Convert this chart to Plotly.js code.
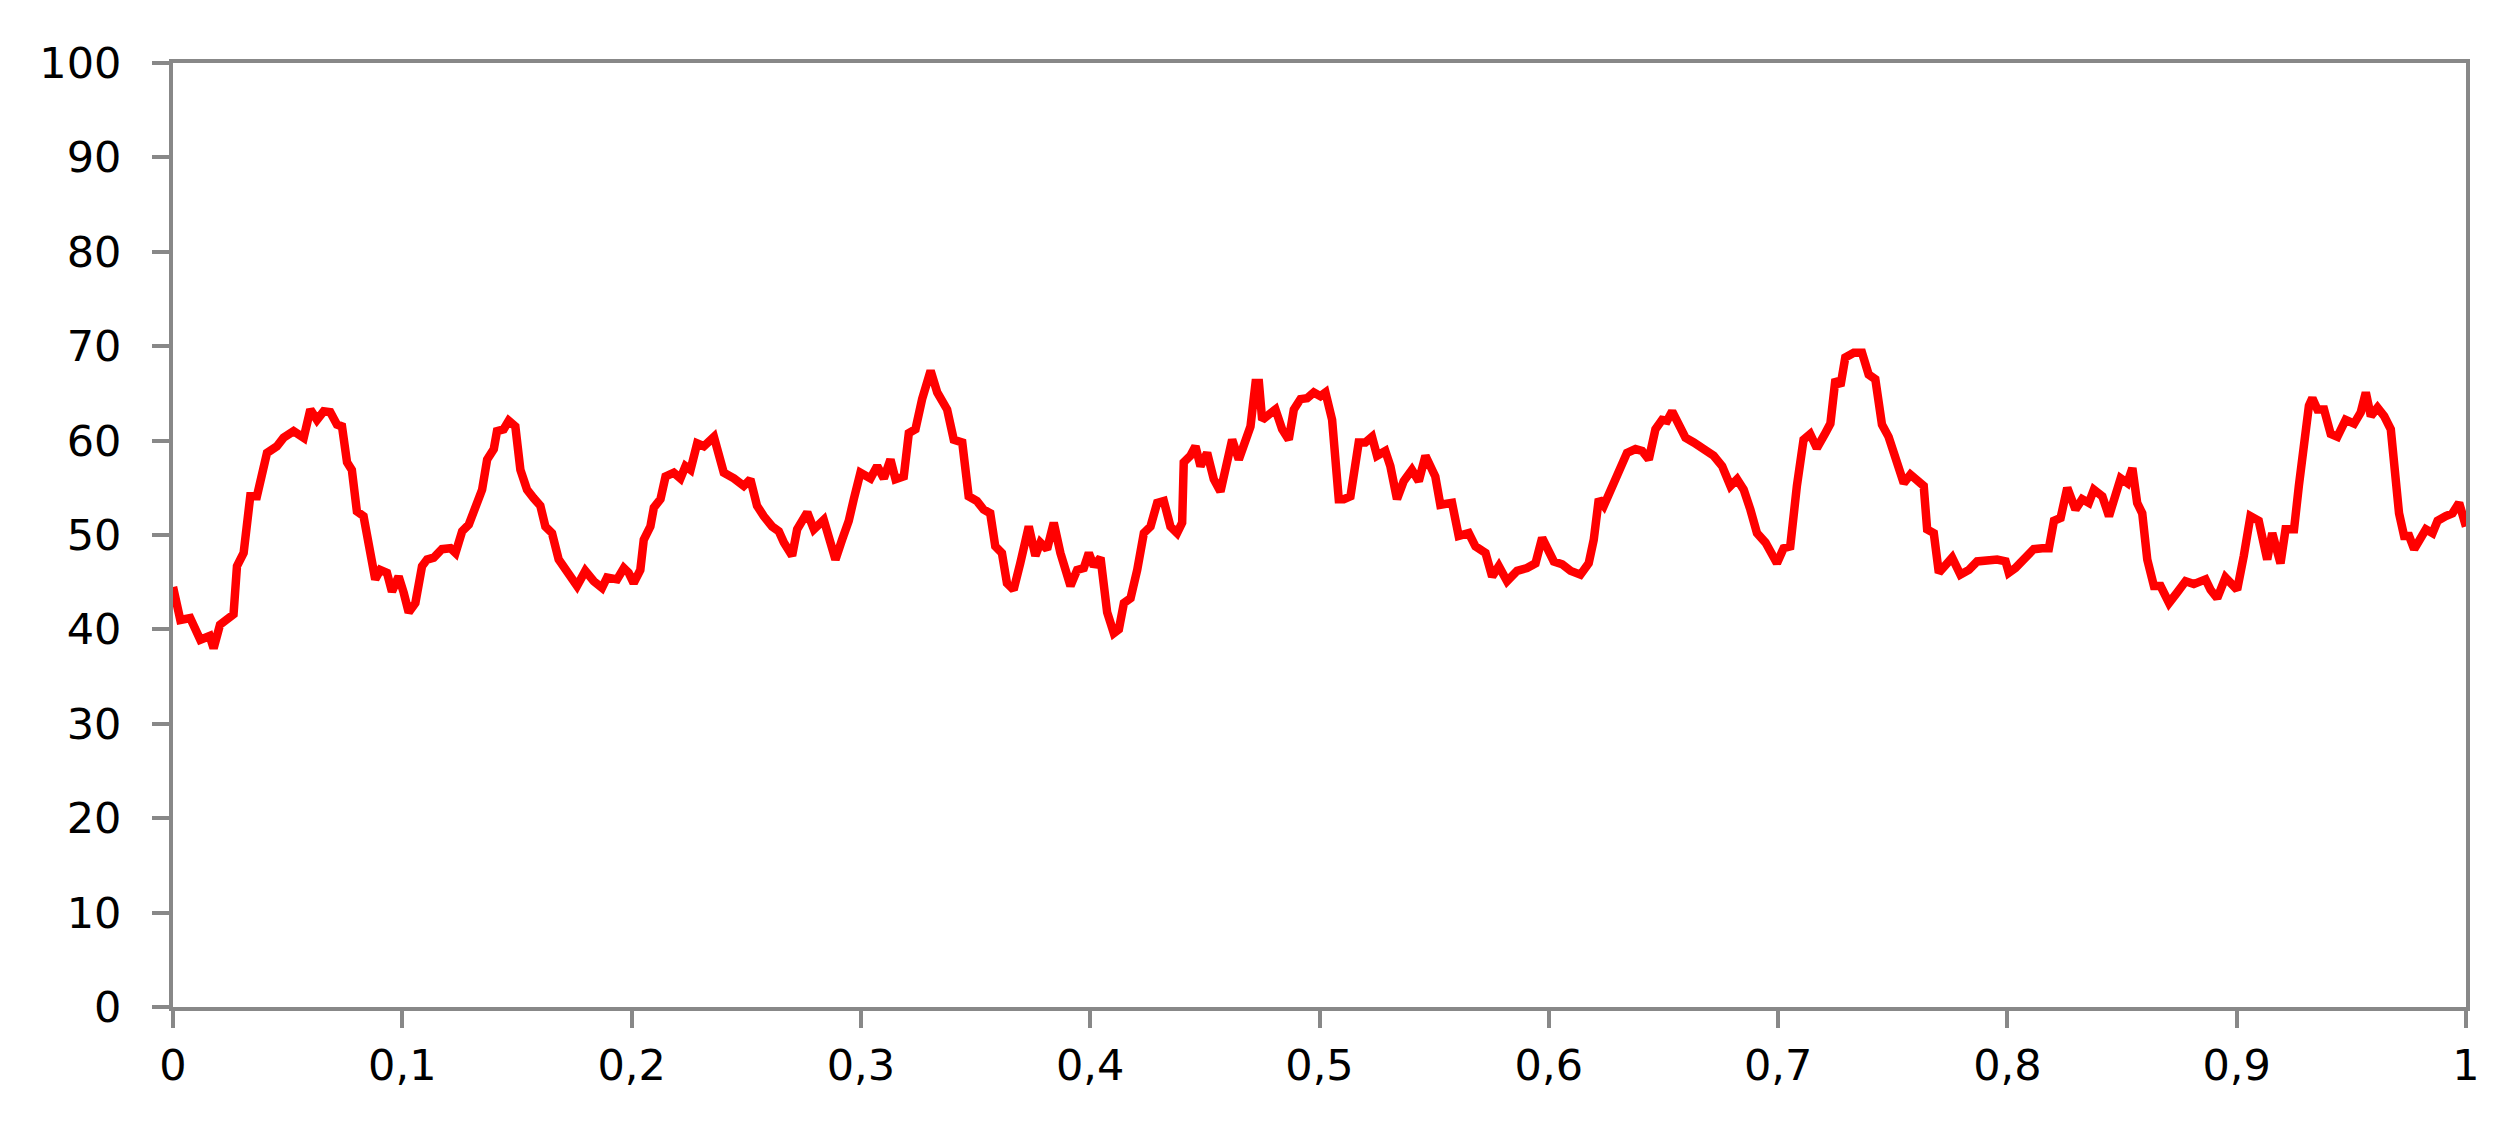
<!DOCTYPE html>
<html>
<head>
<meta charset="utf-8">
<script src="https://cdn.plot.ly/plotly-3.0.1.min.js"></script>
<style>
  html, body { margin: 0; padding: 0; background: #ffffff; }
  #plotDiv { width: 2510px; height: 1139px; }
</style>
</head>
<body>
<div id="plotDiv"></div>
<script>
// x positions (0..1) and values
let xVals = [
  0.000, 0.0032, 0.0075, 0.0119, 0.016, 0.0177, 0.0205, 0.0264, 0.0279, 0.0308,
  0.0337, 0.0366, 0.041, 0.0453, 0.0482, 0.0526, 0.057, 0.0599, 0.0628, 0.0657,
  0.0686, 0.0715, 0.0737, 0.0759, 0.078, 0.0802, 0.0831, 0.086, 0.0882, 0.0904,
  0.0933, 0.0955, 0.0984, 0.1006, 0.1028, 0.1057, 0.1086, 0.1108, 0.1137, 0.1173,
  0.121, 0.1232, 0.1261, 0.129, 0.1319, 0.1348, 0.137, 0.1399, 0.1413, 0.1442,
  0.1464, 0.1493, 0.1515, 0.1544, 0.1573, 0.1602, 0.1624, 0.1653, 0.1682, 0.1711,
  0.174, 0.1762, 0.1798, 0.1835, 0.1871, 0.1893, 0.1937, 0.1966, 0.1987, 0.2009,
  0.2038, 0.2053, 0.2082, 0.2097, 0.2126, 0.2148, 0.2184, 0.2213, 0.2235, 0.2257,
  0.2286, 0.2315, 0.2359, 0.2373, 0.2402, 0.2446, 0.2489, 0.2518, 0.2547, 0.2576,
  0.2613, 0.2642, 0.2664, 0.27, 0.2722, 0.2766, 0.2795, 0.2838, 0.2867, 0.2889,
  0.2918, 0.2947, 0.2969, 0.2998, 0.3042, 0.3071, 0.31, 0.3129, 0.3151, 0.3187,
  0.3209, 0.3238, 0.3267, 0.3304, 0.3333, 0.3376, 0.3405, 0.3442, 0.347, 0.3506,
  0.3535, 0.3564, 0.3586, 0.3615, 0.3637, 0.3666, 0.3695, 0.3732, 0.3761, 0.3783,
  0.3812, 0.3841, 0.387, 0.3914, 0.3943, 0.3972, 0.3994, 0.4016, 0.4045, 0.4074,
  0.4103, 0.4125, 0.4147, 0.4176, 0.4205, 0.4234, 0.4263, 0.4292, 0.4321, 0.435,
  0.4379, 0.4401, 0.4408, 0.4437, 0.4459, 0.4481, 0.451, 0.4539, 0.4568, 0.4597,
  0.4619, 0.4648, 0.4677, 0.4699, 0.4721, 0.4736, 0.475, 0.4779, 0.4808, 0.4837,
  0.4866, 0.4888, 0.4917, 0.4946, 0.4975, 0.5004, 0.5026, 0.5055, 0.5084, 0.5106,
  0.5135, 0.5171, 0.52, 0.5229, 0.5251, 0.5287, 0.5309, 0.5338, 0.5367, 0.5403,
  0.5433, 0.5462, 0.5505, 0.5527, 0.5578, 0.5607, 0.5651, 0.568, 0.5724, 0.5753,
  0.5782, 0.5818, 0.5862, 0.5905, 0.5942, 0.5971, 0.5993, 0.6022, 0.6058, 0.6095,
  0.6138, 0.6174, 0.6196, 0.6218, 0.624, 0.6283, 0.6312, 0.6341, 0.6378, 0.6407,
  0.6436, 0.6465, 0.6494, 0.6516, 0.6538, 0.6567, 0.6596, 0.6632, 0.6676, 0.6719,
  0.6756, 0.6792, 0.6821, 0.685, 0.6879, 0.6908, 0.6945, 0.6995, 0.7024, 0.7053,
  0.7082, 0.7111, 0.714, 0.7169, 0.7206, 0.7228, 0.725, 0.7272, 0.7293, 0.733,
  0.7366, 0.7395, 0.7424, 0.7453, 0.7482, 0.7511, 0.7548, 0.7577, 0.7606, 0.7635,
  0.765, 0.7679, 0.7701, 0.773, 0.7759, 0.7795, 0.7832, 0.7868, 0.7912, 0.7955,
  0.7992, 0.8006, 0.8035, 0.8079, 0.8115, 0.8152, 0.8181, 0.8203, 0.8232, 0.8261,
  0.8297, 0.8326, 0.8355, 0.8377, 0.8414, 0.8443, 0.8472, 0.8494, 0.8523, 0.8545,
  0.8566, 0.8588, 0.861, 0.8639, 0.8668, 0.8705, 0.874, 0.8777, 0.8813, 0.8842,
  0.8864, 0.8886, 0.8915, 0.8951, 0.8973, 0.9002, 0.9031, 0.906, 0.9096, 0.9133,
  0.9155, 0.9191, 0.9213, 0.925, 0.9271, 0.9293, 0.9315, 0.933, 0.9352, 0.9381,
  0.941, 0.9439, 0.9475, 0.9512, 0.9541, 0.9563, 0.9585, 0.9614, 0.9643, 0.9672,
  0.9687, 0.9708, 0.973, 0.9752, 0.9774, 0.9796, 0.9825, 0.9854, 0.9876, 0.9912,
  0.9941, 0.997, 1.0
];

let yVals = [
  44.5, 41.0, 41.2, 38.9, 39.3, 38.0, 40.5, 41.6, 46.7, 48.1,
  54.1, 54.1, 58.7, 59.4, 60.3, 61.0, 60.3, 63.3, 62.2, 63.1,
  63.0, 61.7, 61.5, 57.7, 56.9, 52.5, 52.0, 47.4, 45.3, 46.3,
  46.0, 44.0, 45.6, 43.9, 41.8, 42.8, 46.7, 47.4, 47.6, 48.5,
  48.6, 48.1, 50.4, 51.1, 53.1, 54.8, 58.0, 59.1, 61.0, 61.2,
  62.1, 61.5, 56.9, 54.8, 53.9, 53.1, 50.9, 50.2, 47.4, 46.3,
  45.3, 44.6, 46.2, 45.1, 44.4, 45.5, 45.3, 46.5, 46.0, 44.9,
  46.3, 49.5, 50.9, 52.9, 53.8, 56.2, 56.6, 56.0, 57.3, 56.9,
  59.7, 59.4, 60.4, 59.1, 56.6, 56.0, 55.2, 55.9, 53.1, 52.0,
  50.9, 50.4, 49.2, 47.8, 50.6, 52.4, 50.6, 51.6, 48.8, 47.4,
  49.5, 51.5, 53.8, 56.6, 56.0, 57.3, 56.0, 58.0, 55.9, 56.2,
  60.8, 61.2, 64.4, 67.4, 65.1, 63.3, 60.1, 59.8, 54.1, 53.6,
  52.7, 52.3, 48.8, 48.1, 44.9, 44.2, 47.0, 50.9, 47.8, 49.2,
  48.5, 51.3, 48.1, 44.6, 46.3, 46.5, 48.1, 46.7, 47.6, 41.8,
  39.6, 40.0, 42.8, 43.3, 46.3, 50.2, 50.9, 53.4, 53.6, 50.9,
  50.2, 51.3, 57.7, 58.4, 59.4, 57.3, 58.7, 55.9, 54.6, 58.0,
  60.1, 58.0, 60.4, 61.5, 66.1, 66.1, 62.2, 62.8, 63.3, 61.2,
  60.1, 63.3, 64.4, 64.5, 65.1, 64.7, 65.1, 62.2, 53.8, 53.8,
  54.1, 59.8, 59.8, 60.4, 58.4, 58.9, 57.3, 53.8, 55.7, 56.9,
  55.7, 58.4, 56.2, 53.2, 53.4, 49.9, 50.2, 48.8, 48.1, 45.6,
  46.7, 45.1, 46.2, 46.5, 47.0, 49.7, 48.8, 47.2, 46.9, 46.2,
  45.8, 47.0, 49.5, 53.8, 53.1, 55.5, 56.6, 58.7, 59.1, 58.9,
  58.0, 61.2, 62.2, 62.1, 63.1, 61.5, 60.3, 59.8, 59.2, 58.4,
  57.3, 55.2, 55.9, 54.8, 52.7, 50.2, 49.2, 47.0, 48.6, 48.8,
  55.2, 60.1, 60.7, 59.2, 60.8, 61.8, 66.5, 65.8, 68.8, 69.3,
  69.3, 67.0, 66.5, 61.7, 60.4, 58.0, 55.5, 56.4, 55.7, 55.2,
  50.6, 50.2, 46.0, 46.7, 47.6, 45.8, 46.3, 47.2, 47.4, 47.4,
  47.2, 46.0, 46.5, 47.6, 48.5, 48.6, 48.6, 51.5, 51.8, 55.0,
  52.7, 53.8, 53.4, 54.8, 54.1, 52.0, 54.1, 56.0, 55.5, 57.1,
  53.4, 52.3, 47.4, 44.6, 44.6, 42.8, 43.9, 45.1, 44.8, 45.1,
  45.3, 44.2, 43.3, 45.5, 44.9, 44.2, 47.8, 52.0, 51.5, 47.4,
  50.2, 47.0, 50.6, 50.6, 55.2, 59.1, 63.7, 64.5, 63.3, 63.3,
  60.7, 60.4, 62.2, 61.8, 63.0, 65.1, 62.6, 63.5, 62.6, 61.2,
  57.3, 52.3, 49.9, 49.9, 48.5, 49.3, 50.6, 50.2, 51.5, 52.0,
  52.3, 53.4, 50.9
];

let xTicks = [0, 0.1, 0.2, 0.3, 0.4, 0.5, 0.6, 0.7, 0.8, 0.9, 1];
let yTicks = [0, 10, 20, 30, 40, 50, 60, 70, 80, 90, 100];

function draw() {
  let data = [
    {
      x: xVals,
      y: yVals,
      type: "scatter",
      mode: "lines",
      line: { color: "#ff0000", width: 8.5 },
      hoverinfo: "skip"
    }
  ];

  let axisStyle = {
    showgrid: false,
    zeroline: false,
    showline: true,
    mirror: true,
    linecolor: "#888888",
    linewidth: 4,
    ticks: "outside",
    ticklen: 17,
    tickwidth: 4,
    tickcolor: "#888888",
    tickfont: { family: "DejaVu Sans", size: 43, color: "#000000" }
  };

  let layout = {
    width: 2510,
    height: 1139,
    margin: { l: 173, r: 44, t: 63, b: 132 },
    paper_bgcolor: "#ffffff",
    plot_bgcolor: "#ffffff",
    showlegend: false,
    separators: ", ",
    xaxis: Object.assign({}, axisStyle, {
      range: [0, 1],
      tickvals: xTicks,
      ticklabelstandoff: 0
    }),
    yaxis: Object.assign({}, axisStyle, {
      range: [0, 100],
      tickvals: yTicks,
      ticklabelstandoff: 22
    })
  };

  Plotly.newPlot("plotDiv", data, layout, { staticPlot: true });
}

draw();
</script>
</body>
</html>
